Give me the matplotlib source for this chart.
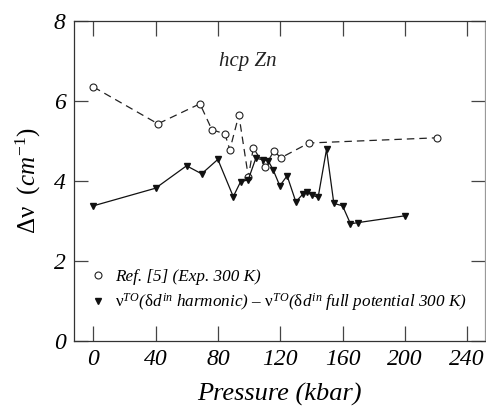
import matplotlib
matplotlib.use("Agg")
from matplotlib import pyplot as plt
from matplotlib.lines import Line2D

plt.rcParams["font.family"] = ["Liberation Serif", "DejaVu Serif"]
plt.rcParams["mathtext.fontset"] = "custom"
plt.rcParams["mathtext.rm"] = "Liberation Serif"
plt.rcParams["mathtext.it"] = "Liberation Serif:italic"

# experimental Ref. [5]
exp_p = [0, 41.4, 68.4, 76.1, 84.4, 87.6, 93.4, 99.5, 102.7, 110.1, 115.9, 120.4, 138.4, 220.5]
exp_dv = [6.35, 5.43, 5.93, 5.28, 5.18, 4.78, 5.65, 4.10, 4.83, 4.36, 4.75, 4.58, 4.95, 5.08]

# harmonic minus full potential
calc_p = [0, 39.9, 59.8, 69.5, 79.9, 89.8, 94.5, 99.4, 104.3, 109.0, 112.2, 115.4,
          119.7, 124.4, 130.0, 134.7, 136.9, 140.1, 144.3, 149.7, 154.4, 160.0,
          165.1, 170.0, 200.0]
calc_dv = [3.38, 3.82, 4.38, 4.18, 4.54, 3.61, 3.98, 4.03, 4.57, 4.53, 4.51, 4.28,
           3.88, 4.13, 3.48, 3.68, 3.73, 3.65, 3.59, 4.79, 3.44, 3.38,
           2.93, 2.96, 3.13]

xticks = [0, 40, 80, 120, 160, 200, 240]
yticks = [0, 2, 4, 6, 8]

fig = plt.figure(figsize=(4.86, 4.07), dpi=100)
ax = fig.add_axes([74 / 486, 1 - 341 / 407, 411 / 486, 320 / 407])

ax.plot(exp_p, exp_dv, color="#222222", linestyle=(0, (6, 4)), linewidth=0.9,
        marker="o", markersize=5, markerfacecolor="white", markeredgecolor="#222222",
        markeredgewidth=0.8)
ax.plot(calc_p, calc_dv, color="#111111", linestyle="-", linewidth=0.9,
        marker="v", markersize=5, markerfacecolor="#111111", markeredgecolor="#111111")

ax.set_xlim(-12.5, 251.5)
ax.set_ylim(0, 8)
ax.set_xticks(xticks)
ax.set_yticks(yticks)
ax.set_xticklabels([str(t) for t in xticks], fontstyle="italic", fontsize=17)
ax.set_yticklabels([str(t) for t in yticks], fontstyle="italic", fontsize=17)
ax.tick_params(direction="in", length=11, width=0.9, top=True, right=False,
               pad=6, color="#444444")
ax.tick_params(axis="y", right=True, length=10)
for s in ax.spines.values():
    s.set_linewidth(0.9)
    s.set_color("#333333")
ax.spines["right"].set_color("#999999")

ax.set_xlabel("Pressure (kbar)", fontsize=19, fontstyle="italic", labelpad=9)
ax.set_ylabel(r"$\Delta\mathrm{\nu}$  $(\mathit{cm}^{-1})$", fontsize=18, labelpad=8)

ax.text(0.422, 0.872, "hcp Zn", transform=ax.transAxes, fontsize=15,
        fontstyle="italic", ha="center", va="center", color="#222222")

handles = [
    Line2D([], [], linestyle="none", marker="o", markersize=5,
           markerfacecolor="white", markeredgecolor="#222222", markeredgewidth=0.8),
    Line2D([], [], linestyle="none", marker="v", markersize=5, color="#111111"),
]
labels = [
    "Ref. [5] (Exp. 300 K)",
    r"$\mathrm{\nu}^{TO}$($\mathrm{\delta}d^{in}$ harmonic) – "
    r"$\mathrm{\nu}^{TO}$($\mathrm{\delta}d^{in}$ full potential 300 K)",
]
leg = ax.legend(handles, labels, loc="center left", bbox_to_anchor=(0.005, 0.155),
                frameon=False, handlelength=0.8, handletextpad=0.6,
                labelspacing=0.35, prop={"size": 12.3, "style": "italic"})

fig.savefig("out.png", dpi=100)
